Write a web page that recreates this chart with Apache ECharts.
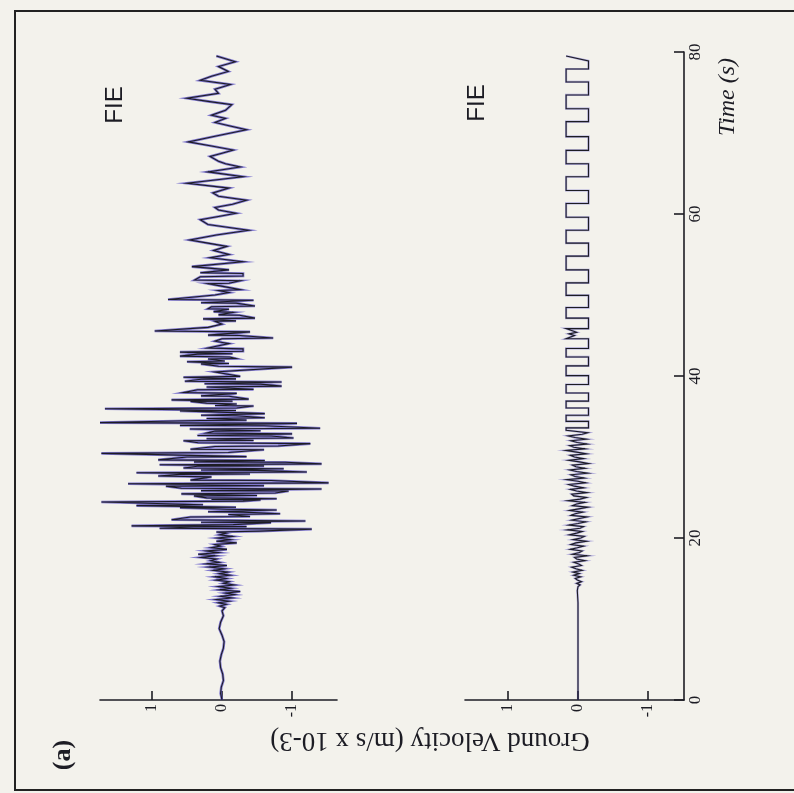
<!DOCTYPE html>
<html><head><meta charset="utf-8">
<script src="https://cdn.jsdelivr.net/npm/echarts@6/dist/echarts.min.js"></script>
<style>html,body{margin:0;padding:0;background:#f3f2ec}#c{width:794px;height:793px}</style>
</head><body><div id="c"></div>
<script>
// ---- data ----
const timeTicks = [0, 20, 40, 60, 80];
const velTicks = [1, 0, -1];
const stationLabels = ['FIE', 'FIE'];
const panelTag = '(a)';
const velName = 'Ground Velocity (m/s x 10-3)';
const timeName = 'Time (s)';

// upper trace (time s, velocity m/s x 1e-3)
const time1 = [0,0.8,1.6,2.4,3.2,4.0,4.8,5.6,6.4,7.2,8.0,8.8,9.6,10.4,11.0,
 11.2,11.4,11.6,11.8,12.0,12.2,12.4,12.6,12.8,13.0,13.2,13.4,13.6,13.8,14.0,14.2,14.4,14.6,14.8,15.0,
 15.2,15.4,15.6,15.8,16.0,16.2,16.4,16.6,16.8,17.0,17.2,17.4,17.6,17.8,18.0,18.2,18.4,18.6,18.8,19.0,
 19.2,19.4,19.6,19.8,20.0,20.2,20.4,20.6,
 20.75,20.85,21.1,21.2,21.35,21.4,21.5,21.65,21.9,21.95,22.1,22.25,22.6,22.65,22.9,23.0,23.2,23.25,23.45,23.55,
 23.75,23.8,24.0,24.1,24.45,24.55,24.7,24.75,24.85,24.95,25.2,25.25,25.45,25.55,25.8,25.85,
 26.05,26.15,26.4,26.45,26.7,26.8,27.1,27.15,27.55,27.65,27.85,27.9,28.05,28.15,28.35,28.4,28.55,28.65,
 28.85,28.9,29.05,29.15,29.35,29.4,29.55,29.65,30.0,30.05,30.45,30.55,30.9,30.95,31.3,31.35,31.65,31.75,
 32.0,32.05,32.25,32.35,32.6,32.65,32.85,32.95,33.2,33.25,33.45,33.55,33.85,33.9,34.15,34.25,34.5,34.55,
 34.75,34.85,35.1,35.15,35.35,35.45,35.7,35.75,35.95,36.05,36.3,36.35,36.55,36.65,36.85,36.9,37.05,37.15,
 37.5,37.55,37.85,37.95,38.3,38.35,38.65,38.75,39.0,39.05,39.25,39.35,39.6,39.65,39.85,39.95,40.5,41.1,41.2,
 41.5,41.55,41.75,41.85,42.1,42.15,42.35,42.45,42.7,42.75,42.95,43.05,43.35,43.45,
 44.0,44.3,44.6,44.7,45.0,45.05,45.45,45.55,46.0,46.4,46.75,46.8,47.05,47.15,47.5,47.55,47.85,47.95,
 48.25,48.3,48.55,48.65,49.0,49.05,49.35,49.45,50.0,50.3,50.55,50.65,51.0,51.4,51.45,
 51.75,51.85,52.25,52.35,52.65,52.75,53.1,53.5,54.1,54.6,55.0,55.5,56.0,56.4,56.8,57.4,58.0,58.4,58.7,59.3,59.7,60.1,
 60.5,60.8,61.2,61.7,62.2,62.6,63.2,63.8,64.2,64.6,65.2,65.8,66.2,66.5,67.1,67.5,67.9,68.4,68.9,69.6,70.4,70.9,71.3,
 71.8,72.2,72.8,73.5,73.9,74.3,74.9,75.4,76.0,76.5,77.0,77.6,78.2,78.8,79.5];
const vel1 = [0.00,0.02,0.01,-0.02,-0.01,0.02,0.03,0.01,-0.02,-0.03,0.00,0.04,0.02,-0.02,0.00,
 0.02,-0.04,0.03,-0.06,0.05,-0.10,0.08,-0.14,0.02,-0.18,-0.05,-0.26,0.03,-0.12,0.05,-0.17,-0.02,-0.10,0.08,-0.06,
 0.10,-0.11,0.04,-0.08,0.12,-0.03,0.18,-0.07,0.22,0.04,0.16,0.08,0.30,0.10,0.34,0.05,0.22,-0.07,0.15,0.02,
 0.10,-0.21,0.08,-0.12,0.06,-0.15,0.03,-0.06,
 0.08,-0.54,-1.28,0.89,0.40,-0.35,1.29,-0.16,-0.70,0.30,-1.19,0.72,0.45,-0.40,-0.09,-0.83,-0.30,0.20,-0.78,-0.07,
 0.60,-0.20,1.22,0.27,1.72,-0.30,-0.55,0.15,-0.78,0.22,0.40,-0.50,0.58,-0.76,-0.95,0.30,
 -1.42,0.58,0.80,-0.60,1.34,-1.52,-0.70,0.45,0.15,0.91,0.60,-0.40,1.22,-1.21,-0.50,0.30,-0.88,0.55,
 0.35,-0.60,0.89,-1.42,-0.90,0.40,-0.61,0.91,0.50,-0.35,1.72,-0.09,-0.60,0.45,0.10,-0.80,-1.26,0.34,
 0.55,-0.45,0.22,-1.02,-0.70,0.35,-1.00,0.22,0.10,-0.55,0.46,-1.40,-0.60,0.60,-1.07,1.74,0.30,-0.35,
 0.22,-0.61,-0.20,0.30,-0.61,-0.30,0.60,-0.20,1.67,-0.21,-0.45,0.10,-0.21,0.22,0.45,-0.15,0.72,-0.38,
 -0.10,0.30,-0.21,0.55,0.35,-0.45,0.22,-0.85,-0.55,0.25,-0.85,0.53,0.30,-0.20,0.55,-0.26,0.10,-1.00,0.05,
 0.30,-0.10,0.50,-0.04,0.20,-0.20,-0.11,0.60,0.35,-0.15,0.60,-0.30,-0.30,0.20,
 -0.10,0.10,0.00,-0.73,-0.25,0.20,-0.40,0.96,0.20,0.00,0.10,-0.20,0.27,-0.47,-0.25,0.05,-0.16,0.12,
 -0.10,0.20,0.15,-0.47,-0.20,0.30,-0.45,0.77,0.10,-0.10,0.05,-0.26,-0.05,0.20,-0.10,
 -0.26,0.39,0.31,-0.30,-0.30,0.31,-0.10,0.43,-0.30,0.17,-0.10,0.12,-0.07,0.20,0.46,0.08,-0.38,-0.05,0.20,0.31,0.05,-0.20,
 0.05,0.10,-0.15,-0.35,0.05,0.13,-0.10,0.50,0.10,-0.30,0.20,-0.26,-0.05,0.05,0.17,0.00,-0.16,0.15,0.48,0.10,-0.35,-0.10,0.10,
 -0.05,0.15,-0.05,-0.14,0.20,0.50,0.05,0.10,-0.12,0.31,0.15,-0.09,0.05,-0.19,0.08];

// lower trace
const time2 = [0,3,6,9,12,13.5,14.0,
 14.2,14.4,14.6,14.8,15.0,15.2,15.4,15.6,15.8,16.0,16.2,16.4,16.6,16.8,17.0,17.2,17.4,17.6,17.8,18.0,
 18.2,18.4,18.6,18.8,19.0,19.2,19.4,19.6,19.8,20.0,20.2,20.4,20.6,20.8,21.0,21.2,21.4,21.6,21.8,22.0,
 22.2,22.4,22.6,22.8,23.0,23.2,23.4,23.6,23.8,24.0,24.2,24.4,24.6,24.8,25.0,25.2,25.4,25.6,25.8,26.0,
 26.2,26.4,26.6,26.8,27.0,27.2,27.4,27.6,27.8,28.0,28.2,28.4,28.6,28.8,29.0,29.2,29.4,29.6,29.8,30.0,
 30.2,30.4,30.6,30.8,31.0,31.2,31.4,31.6,31.8,32.0,32.2,32.4,32.6,32.8,33.0,
 33.3,33.6,33.6,34.4,34.4,35.15,35.15,36.05,36.05,36.9,36.9,37.9,37.9,38.95,38.95,40.05,40.05,
 41.25,41.25,42.35,42.35,43.4,43.4,44.6,44.6,45.0,45.2,45.4,45.85,45.85,47.15,47.15,48.45,48.45,49.95,49.95,
 51.5,51.5,53.1,53.1,54.8,54.8,56.4,56.4,58.0,58.0,59.6,59.6,61.3,61.3,62.9,62.9,64.6,64.6,66.2,66.2,
 67.85,67.85,69.55,69.55,71.4,71.4,73.0,73.0,74.7,74.7,76.3,76.3,77.9,77.9,78.9,79.5];
const vel2 = [0,0,0,0,0,0.01,0.0,
 -0.03,0.02,-0.05,0.01,0.04,-0.04,0.06,-0.02,0.07,-0.06,0.03,0.09,-0.05,-0.01,0.06,-0.10,0.02,0.05,-0.13,0.08,
 -0.02,-0.06,0.11,0.01,-0.08,0.10,0.03,-0.12,0.07,-0.04,-0.09,0.12,0.02,-0.06,0.15,-0.03,-0.08,0.13,0.00,-0.11,
 0.09,-0.02,-0.13,0.10,0.04,-0.07,0.12,-0.01,-0.14,0.08,0.02,-0.10,0.14,-0.03,-0.12,0.06,0.09,-0.13,0.02,0.11,
 -0.08,0.05,0.13,-0.11,0.00,0.16,-0.09,0.04,0.10,-0.14,0.02,0.12,-0.10,0.03,0.08,-0.15,-0.02,0.13,-0.08,0.05,
 0.11,-0.12,0.02,0.17,-0.10,0.06,0.12,-0.13,0.01,0.10,-0.12,0.04,0.14,-0.06,-0.14,
 0.17,0.17,-0.15,-0.15,0.17,0.17,-0.15,-0.15,0.17,0.17,-0.15,-0.15,0.17,0.17,-0.15,-0.15,0.17,
 0.17,-0.15,-0.15,0.17,0.17,-0.15,-0.15,0.17,0.05,0.13,0.02,0.17,-0.15,-0.15,0.17,0.17,-0.15,-0.15,0.17,
 0.17,-0.15,-0.15,0.17,0.17,-0.15,-0.15,0.17,0.17,-0.15,-0.15,0.17,0.17,-0.15,-0.15,0.17,0.17,-0.15,-0.15,0.17,
 0.17,-0.15,-0.15,0.17,0.17,-0.15,-0.15,0.17,0.17,-0.15,-0.15,0.17,0.17,-0.15,-0.15,0.17];

// ---- chart ----
const ink = '#1c1c24';
const serif = '"Liberation Serif", "DejaVu Serif", serif';
function velAxis(gi, min, max) {
  return {
    gridIndex: gi, type: 'value', inverse: true, min: min, max: max, position: 'bottom',
    axisLine: {show: true, onZero: false, lineStyle: {color: ink, width: 1.6}},
    axisTick: {show: true, inside: true, length: 9, customValues: velTicks, lineStyle: {color: ink, width: 1.6}},
    axisLabel: {show: true, customValues: velTicks, rotate: 90, margin: 4, fontFamily: serif, fontSize: 16, color: ink},
    splitLine: {show: false}
  };
}
const pts1 = time1.map((t, i) => [vel1[i], t]);
const pts2 = time2.map((t, i) => [vel2[i], t]);
function trace(name, data, gi, color, width, opacity, z) {
  return {name: name, type: 'line', xAxisIndex: gi, yAxisIndex: gi, data: data, showSymbol: false,
    symbol: 'none', z: z, lineStyle: {color: color, width: width, opacity: opacity, join: 'miter'}};
}
const chart = echarts.init(document.getElementById('c'), null, {renderer: 'canvas'});
chart.setOption({
  backgroundColor: '#f3f2ec',
  animation: false,
  grid: [
    {left: 100, width: 237, top: 52, bottom: 93},
    {left: 465, width: 219, top: 52, bottom: 93}
  ],
  xAxis: [velAxis(0, -1.64, 1.74), velAxis(1, -1.514, 1.614)],
  yAxis: [
    {gridIndex: 0, type: 'value', min: 0, max: 80, show: false},
    {gridIndex: 1, type: 'value', min: 0, max: 80, interval: 20, position: 'right',
      axisLine: {show: true, onZero: false, lineStyle: {color: ink, width: 1.6}},
      axisTick: {show: true, inside: true, length: 10, lineStyle: {color: ink, width: 1.6}},
      axisLabel: {show: true, rotate: 90, margin: 3, fontFamily: serif, fontSize: 17, color: ink,
        customValues: timeTicks},
      splitLine: {show: false}}
  ],
  series: [
    trace('FIE halo', pts1, 0, '#5a4fc6', 2.6, 0.75, 2),
    trace('FIE', pts1, 0, ink, 1.1, 1, 3),
    trace('FIE halo 2', pts2, 1, '#5a4fc6', 2.2, 0.45, 2),
    trace('FIE 2', pts2, 1, ink, 1.1, 1, 3)
  ],
  graphic: [
    {type: 'polyline', shape: {points: [[794, 11], [15, 11], [15, 790], [794, 790]]},
      style: {stroke: '#222', lineWidth: 2, fill: null}},
    {type: 'text', x: 115, y: 105, rotation: Math.PI / 2,
      style: {text: stationLabels[0], font: '24px "Liberation Sans", Arial, sans-serif', fill: ink, align: 'center', verticalAlign: 'middle'}},
    {type: 'text', x: 477, y: 103, rotation: Math.PI / 2,
      style: {text: stationLabels[1], font: '24px "Liberation Sans", Arial, sans-serif', fill: ink, align: 'center', verticalAlign: 'middle'}},
    {type: 'text', x: 63, y: 755, rotation: Math.PI / 2,
      style: {text: panelTag, font: 'bold 26px ' + serif, fill: ink, align: 'center', verticalAlign: 'middle'}},
    {type: 'text', x: 430, y: 740, rotation: Math.PI,
      style: {text: velName, font: '27px ' + serif, fill: ink, align: 'center', verticalAlign: 'middle'}},
    {type: 'text', x: 728, y: 97, rotation: Math.PI / 2,
      style: {text: timeName, font: 'italic 24px ' + serif, fill: ink, align: 'center', verticalAlign: 'middle'}}
  ]
});
</script>
</body></html>
